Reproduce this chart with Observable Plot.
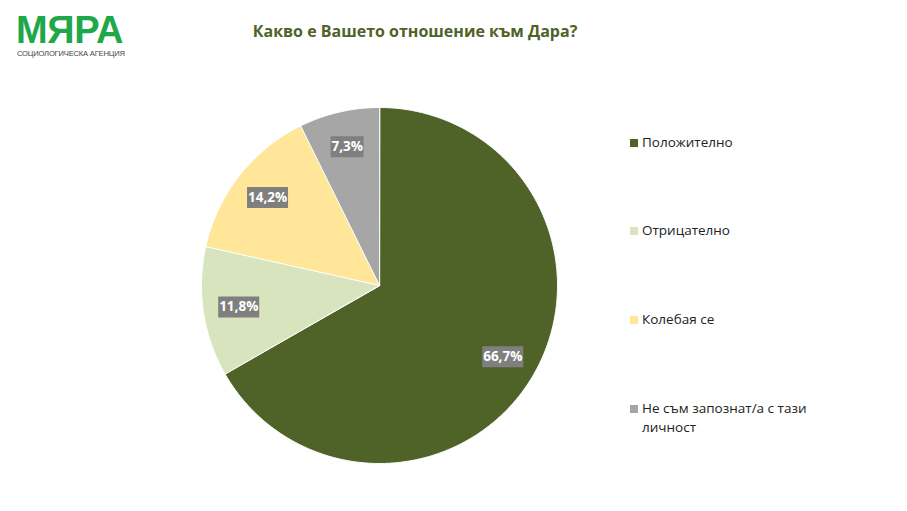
<!DOCTYPE html>
<html><head><meta charset="utf-8">
<script src="https://cdn.jsdelivr.net/npm/d3@7"></script>
<script src="https://cdn.jsdelivr.net/npm/@observablehq/plot@0.6"></script>
<style>
body{margin:0;background:#fff;font-family:'Open Sans',sans-serif}
#root{position:relative;width:907px;height:511px;overflow:hidden;background:#fff}
#root svg{position:absolute;left:0;top:0}
.logo{position:absolute;left:16px;top:15px;height:30px;color:#1fa84a;font-family:'Liberation Sans',Arial,sans-serif;font-weight:bold;font-size:38px;line-height:30px;letter-spacing:-0.3px;white-space:nowrap}
.logosub{position:absolute;left:17px;top:49px;color:#444;font-family:'Liberation Sans',Arial,sans-serif;font-size:7.6px;line-height:9px;letter-spacing:-0.2px;white-space:nowrap}
.title{position:absolute;left:0;width:830px;top:20px;text-align:center;color:#4f6228;font-weight:bold;font-size:16px}
.leg{position:absolute;left:630px;width:185px;font-size:13.5px;color:#222;line-height:19px}
.leg i{position:absolute;left:0;top:6px;width:8px;height:8px}
.leg span{display:block;margin-left:12px}
</style></head><body><div id="root"></div>
<script>
const categories = ["Положително","Отрицателно","Колебая се","Не съм запознат/а с тази личност"];
const values = [66.7, 11.8, 14.2, 7.3];
const valueLabels = ["66,7%","11,8%","14,2%","7,3%"];
const colors = ["#4f6228","#d7e4bd","#ffe699","#a6a6a6"];
const title = "Какво е Вашето отношение към Дара?";
const logoText = "МЯРА";
const logoSub = "СОЦИОЛОГИЧЕСКА АГЕНЦИЯ";

const R = 178; // pixel radius, for converting label box sizes
const arcs = d3.pie().sort(null).startAngle(0).endAngle(2*Math.PI)(values);
const pt = a => [Math.sin(a), Math.cos(a)];
const slices = arcs.map((a,i) => {
  const n = Math.max(2, Math.ceil((a.endAngle - a.startAngle) / 0.01));
  const ring = [[0,0]];
  for (let k = 0; k <= n; k++) ring.push(pt(a.startAngle + (a.endAngle - a.startAngle) * k / n));
  ring.push([0,0]);
  return {type:"Feature", properties:{cat:categories[i]}, geometry:{type:"Polygon", coordinates:[ring]}};
});
const lab = arcs.map((a,i) => {
  const m = (a.startAngle + a.endAngle) / 2;
  const [x,y] = pt(m).map(v => v * 0.8);
  return {x, y, text: valueLabels[i]};
});
const boxes = lab.map(d => {
  const hw = (8 * d.text.length + 1) / 2 / R, hh = 10.5 / R;
  return {type:"Feature", properties:{}, geometry:{type:"Polygon", coordinates:[[
    [d.x-hw,d.y-hh],[d.x+hw,d.y-hh],[d.x+hw,d.y+hh],[d.x-hw,d.y+hh],[d.x-hw,d.y-hh]]]}};
});

const chart = Plot.plot({
  width: 907, height: 511,
  marginLeft: 201, marginRight: 350, marginTop: 107, marginBottom: 48,
  projection: {type: "reflect-y", domain: {type:"MultiPoint", coordinates:[[-1,-1],[1,1]]}, inset: 0},
  color: {domain: categories, range: colors},
  style: {fontFamily: "'Open Sans', sans-serif", background: "transparent"},
  marks: [
    Plot.geo(slices, {fill: d => d.properties.cat, stroke: "white", strokeWidth: 1}),
    Plot.geo(boxes, {fill: "#7f7f7f"}),
    Plot.text(lab, {x: "x", y: "y", text: "text", fill: "white", fontWeight: "bold", fontSize: 13.5})
  ]
});

const root = document.getElementById("root");
root.appendChild(chart);
const mk = (cls, txt) => { const e = document.createElement("div"); e.className = cls; e.textContent = txt; root.appendChild(e); return e; };
mk("logo", logoText);
mk("logosub", logoSub);
mk("title", title);
const legTops = [133, 221, 310, 399];
categories.forEach((c,i) => {
  const e = document.createElement("div");
  e.className = "leg"; e.style.top = legTops[i] + "px";
  const sw = document.createElement("i"); sw.style.background = colors[i];
  const sp = document.createElement("span"); sp.textContent = c;
  e.appendChild(sw); e.appendChild(sp); root.appendChild(e);
});
</script></body></html>
